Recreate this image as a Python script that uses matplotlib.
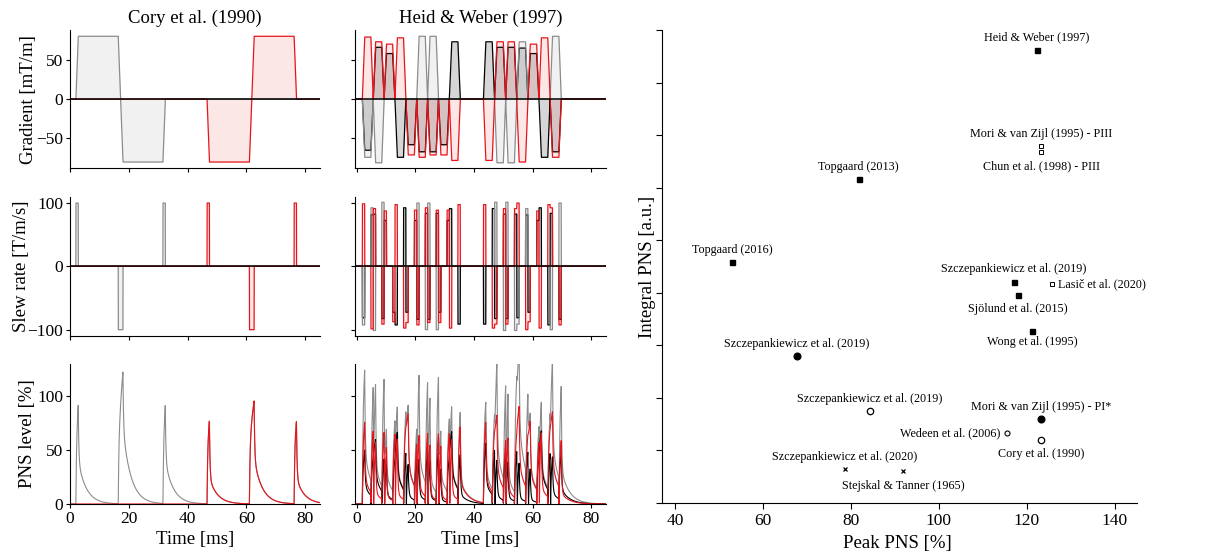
import numpy as np
import matplotlib
matplotlib.use('Agg')
import matplotlib.pyplot as plt

plt.rcParams['font.family'] = ['Liberation Serif', 'DejaVu Serif']

# ---------------- data ----------------
# Cory et al. (1990): gradient vertices (time [ms], amplitude [mT/m])
cory_gray_t = [2.0, 2.8, 16.4, 18.0, 31.6, 32.4]
cory_gray_g = [0, 80, 80, -80, -80, 0]
cory_red_t = [46.6, 47.4, 61.0, 62.6, 76.2, 77.0]
cory_red_g = [0, -80, -80, 80, 80, 0]

# Heid & Weber (1997): trapezoidal lobe amplitudes [mT/m] per axis
heid_black_pre = [-65, 66, 58, -74, -58, -67, -67, -58, 73]
heid_gray_pre = [-74, -81, 0, 0, 0, 80, 80, 0, 0]
heid_red_pre = [79, 73, 70, 78, -71, -74, -71, -71, -78]
heid_black_post = [73, 66, 66, 65, 58, -74, -67]
heid_gray_post = [0, -81, -81, 73, 0, 0, 80]
heid_red_post = [-78, 73, 73, -80, 70, 78, -74]
heid_start = [1.9, 43.2]      # ms, start of lobe trains
heid_lobe_dur = [3.71, 3.79]  # ms
heid_ramp = 0.8               # ms
t_refocus = 39.5              # ms, refocusing pulse (sign flip)

# PNS response per axis: (scale per T/m/s, fast weight)
pns_black = (1.25, 0.33)
pns_gray = (2.115, 0.25)
pns_red = (1.49, 0.362)
tau_fast, tau_slow = 0.2, 2.75

# Scatter: peak vs integral PNS
study = ['Heid & Weber (1997)', 'Mori & van Zijl (1995) - PIII', 'Chun et al. (1998) - PIII',
         'Topgaard (2013)', 'Topgaard (2016)', 'Szczepankiewicz et al. (2019)',
         'Lasič et al. (2020)', 'Sjölund et al. (2015)', 'Wong et al. (1995)',
         'Szczepankiewicz et al. (2019)', 'Szczepankiewicz et al. (2019)',
         'Mori & van Zijl (1995) - PI*', 'Wedeen et al. (2006)', 'Cory et al. (1990)',
         'Szczepankiewicz et al. (2020)', 'Stejskal & Tanner (1965)']
peak_pns = [122.3, 123.3, 123.3, 81.8, 53.0, 117.1, 125.8, 118.0, 121.2,
            67.8, 84.4, 123.2, 115.5, 123.2, 78.6, 91.9]
integral_pns = [8.61, 6.80, 6.67, 6.17, 4.58, 4.21, 4.16, 3.95, 3.27,
                2.79, 1.76, 1.60, 1.33, 1.20, 0.65, 0.60]
kind = ['sq', 'sq_o', 'sq_o', 'sq', 'sq', 'sq', 'sq_o', 'sq', 'sq',
        'ci', 'ci_o', 'ci', 'ci_os', 'ci_o', 'x', 'x']

# ---------------- styles ----------------
label_off = [(0, 13, 'center'), (0, 12, 'center'), (0, -14, 'center'), (0, 12, 'center'),
             (0, 12, 'center'), (0, 13, 'center'), (6, 0, 'left'), (0, -14, 'center'),
             (0, -11, 'center'), (0, 12, 'center'), (0, 12, 'center'), (0, 12, 'center'),
             (-7, 0, 'right'), (0, -14, 'center'), (0, 12, 'center'), (0, -15, 'center')]
mstyle = {
    'sq': dict(marker='s', ms=3.6, mfc='k', mec='k'),
    'sq_o': dict(marker='s', ms=3.2, mfc='white', mec='k', mew=0.7),
    'ci': dict(marker='o', ms=4.8, mfc='k', mec='k'),
    'ci_o': dict(marker='o', ms=4.6, mfc='white', mec='k', mew=0.9),
    'ci_os': dict(marker='o', ms=3.6, mfc='white', mec='k', mew=0.8),
    'x': dict(marker='x', ms=3.4, mec='k', mew=0.9),
}
C_BLACK, C_GRAY, C_RED = 'black', '#8c8c8c', '#e8141c'

dt = 0.01
t = np.arange(0, 85 + dt, dt)


def lobes_to_vertices(amps, start, dur, ramp):
    vt, vg = [], []
    for i, a in enumerate(amps):
        t0 = start + i * dur
        vt += [t0, t0 + ramp, t0 + dur - ramp, t0 + dur]
        vg += [0, a, a, 0]
    return vt, vg


def sample(vt, vg):
    return np.interp(t, vt, vg, left=0, right=0)


def lowpass(x, tau):
    a = np.exp(-dt / tau)
    y = np.empty_like(x)
    acc = 0.0
    for i, v in enumerate(x):
        acc = a * acc + (1 - a) * v
        y[i] = acc
    return y


def slew_and_pns(g, par):
    phys = g * np.where(t > t_refocus, -1.0, 1.0)
    s = np.gradient(phys, dt)
    scale, w = par
    p = scale * np.abs(w * lowpass(s, tau_fast) + (1 - w) * lowpass(s, tau_slow))
    return s, p


def heid_axis(pre, post):
    vt1, vg1 = lobes_to_vertices(pre, heid_start[0], heid_lobe_dur[0], heid_ramp)
    vt2, vg2 = lobes_to_vertices(post, heid_start[1], heid_lobe_dur[1], heid_ramp)
    return sample(vt1 + vt2, vg1 + vg2)


cory = [(sample(cory_gray_t, cory_gray_g), C_GRAY, pns_gray),
        (sample(cory_red_t, cory_red_g), C_RED, pns_red)]
heid = [(heid_axis(heid_black_pre, heid_black_post), C_BLACK, pns_black),
        (heid_axis(heid_gray_pre, heid_gray_post), C_GRAY, pns_gray),
        (heid_axis(heid_red_pre, heid_red_post), C_RED, pns_red)]

fig = plt.figure(figsize=(12.2, 5.55), dpi=100)
W, H = 1220.0, 555.0

col_px = [(70, 320, (0, 85)), (355, 606, (-0.6, 85))]
row_px = [(30, 168.3), (196.7, 336), (364, 504)]
fill_alpha = {C_BLACK: 0.16, C_GRAY: 0.12, C_RED: 0.1}
LBL = 13.5

for ci, (sets, title) in enumerate([(cory, 'Cory et al. (1990)'), (heid, 'Heid & Weber (1997)')]):
    x0, x1, xl = col_px[ci]
    axs = []
    for ri, (y0, y1) in enumerate(row_px):
        ax = fig.add_axes([x0 / W, 1 - y1 / H, (x1 - x0) / W, (y1 - y0) / H])
        axs.append(ax)
        for sp in ['top', 'right']:
            ax.spines[sp].set_visible(False)
        ax.set_xlim(*xl)
        ax.set_xticks([0, 20, 40, 60, 80])
        ax.tick_params(direction='out', length=3, width=0.8, labelsize=12.5, pad=2)
    pns_axes = {}
    for g, col, par in sets:
        s, p = slew_and_pns(g, par)
        pns_axes[col] = p
        axs[0].fill_between(t, 0, g, color=col, alpha=fill_alpha[col], lw=0)
        axs[0].plot(t, g, color=col, lw=0.9)
        axs[1].fill_between(t, 0, s, color=col, alpha=fill_alpha[col], lw=0)
        axs[1].plot(t, s, color=col, lw=0.9)
    # total PNS (gray envelope), then per-axis black and red on top
    total = np.sqrt(sum(p ** 2 for p in pns_axes.values()))
    axs[2].plot(t, total, color=C_GRAY, lw=0.8)
    for col in (C_BLACK, C_RED):
        if col in pns_axes:
            axs[2].plot(t, pns_axes[col], color=col, lw=0.8)
    axs[0].set_ylim(-88, 88)
    axs[0].set_yticks([-50, 0, 50])
    axs[1].set_ylim(-110, 110)
    axs[1].set_yticks([-100, 0, 100])
    axs[2].set_ylim(0, 130)
    axs[2].set_yticks([0, 50, 100])
    for ax in axs[:2]:
        ax.axhline(0, color='k', lw=1.1, zorder=3)
        ax.tick_params(labelbottom=False)
    axs[0].set_title(title, fontsize=LBL, pad=5)
    axs[2].set_xlabel('Time [ms]', fontsize=LBL)
    axs[2].xaxis.set_label_coords(0.5, -0.19)
    if ci == 0:
        axs[0].set_ylabel('Gradient [mT/m]', fontsize=LBL)
        axs[0].yaxis.set_label_coords(-0.13, 0.5)
        axs[1].set_ylabel('Slew rate [T/m/s]', fontsize=LBL)
        axs[1].yaxis.set_label_coords(-0.158, 0.5)
        axs[2].set_ylabel('PNS level [%]', fontsize=LBL)
        axs[2].yaxis.set_label_coords(-0.135, 0.5)
    else:
        for ax in axs:
            ax.tick_params(labelleft=False)

# ---------------- scatter ----------------
axr = fig.add_axes([661.7 / W, 1 - 503 / H, 475 / W, 473 / H])
for sp in ['top', 'right']:
    axr.spines[sp].set_visible(False)
axr.set_xlim(37, 145)
axr.set_ylim(0, 9)
axr.set_xticks([40, 60, 80, 100, 120, 140])
axr.set_yticks(range(0, 10))
axr.tick_params(direction='out', length=4, width=0.8, labelsize=12.5, labelleft=False)
for i in range(len(study)):
    axr.plot([peak_pns[i]], [integral_pns[i]], ls='none', **mstyle[kind[i]])
    dx, dy, ha = label_off[i]
    axr.annotate(study[i], (peak_pns[i], integral_pns[i]), xytext=(dx, dy),
                 textcoords='offset pixels', ha=ha, va='center', fontsize=8.7)
axr.set_xlabel('Peak PNS [%]', fontsize=LBL)
axr.xaxis.set_label_coords(0.497, -0.068)
axr.set_ylabel('Integral PNS [a.u.]', fontsize=LBL)
axr.yaxis.set_label_coords(-0.013, 0.5)

fig.savefig('out.png', dpi=100)
